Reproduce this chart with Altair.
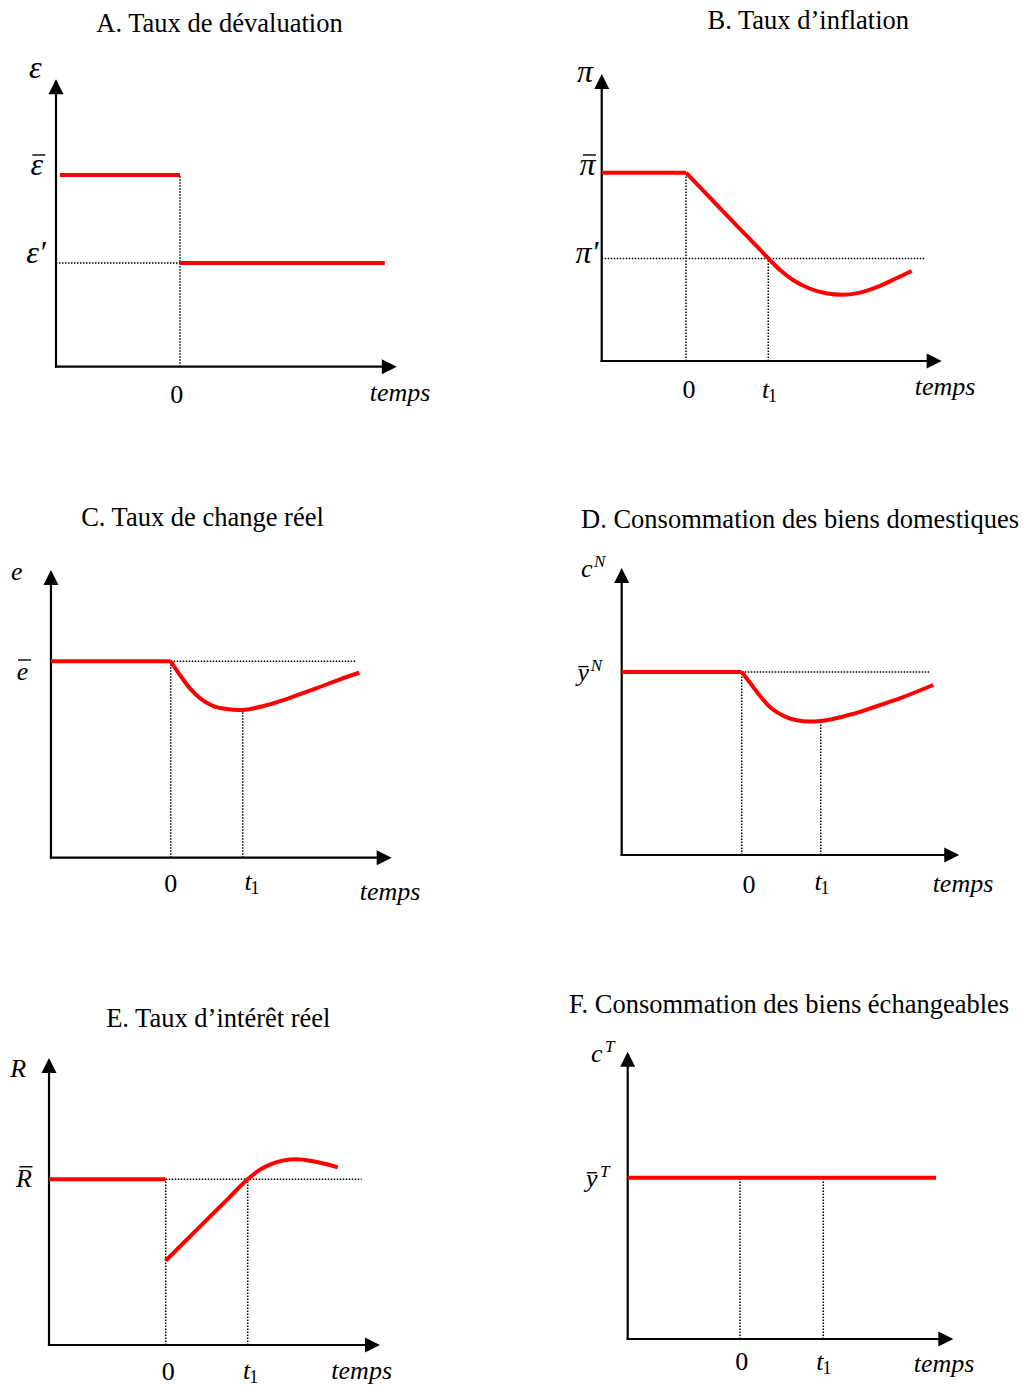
import altair as alt
import pandas as pd

SERIF = "Liberation Serif"
RED = "#ff0000"
INK = "black"

# Arrowheads as custom symbol paths (tip at the anchor point)
UP_ARROW = "M0,0L-1,2L1,2Z"
RIGHT_ARROW = "M0,0L-2,-1L-2,1Z"
ARROW_SIZE = 225          # 7.5 px per path unit -> 15 px long heads
ARROW_LEN = 14            # px of the shaft hidden under a head

# Time is measured so that the devaluation happens at 0 and t1 = 1;
# values are relative to the initial steady state (= 1), the time axis at 0.
# Label tuples: (text, t, v, kind, overline, superscript, subscript)

# ---------- A. Taux de dévaluation ----------
A_title = "A. Taux de dévaluation"
A_axes = (-1.55, 2.71, 1.50)          # y-axis position, end of time axis, top of y-axis
A_red_seg = [0, 0, 1, 1]
A_red_t = [-1.50, 0.0, 0.0, 2.56]
A_red_v = [1.0, 1.0, 0.541, 0.541]
A_dots = [(-1.55, 0.541, 0.0, 0.541), (0.0, 0.0, 0.0, 1.0)]
A_labels = [
    ("ε", -1.81, 1.506, "greek", False, "", ""),
    ("ε", -1.79, 1.0, "greek", True, "", ""),
    ("ε′", -1.80, 0.541, "greek", False, "", ""),
    ("0", -0.04, -0.189, "num", False, "", ""),
    ("temps", 2.75, -0.18, "word", False, "", ""),
]

# ---------- B. Taux d'inflation ----------
B_title = "B. Taux d’inflation"
B_axes = (-1.024, 3.107, 1.524)
B_red_seg = [0, 0] + [1] * 14
B_red_t = [-1.024, 0.0,
           0.0, 0.25, 0.5, 0.75, 1.0, 1.15, 1.3, 1.5, 1.7,
           1.9, 2.1, 2.35, 2.55, 2.742]
B_red_v = [1.0, 1.0,
           1.0, 0.886, 0.772, 0.659, 0.545, 0.48, 0.43, 0.385, 0.36,
           0.352, 0.362, 0.398, 0.438, 0.478]
B_dots = [(-1.024, 0.545, 2.904, 0.545), (0.0, 0.0, 0.0, 1.0), (1.0, 0.0, 1.0, 0.545)]
B_labels = [
    ("π", -1.227, 1.483, "greek", False, "", ""),
    ("π", -1.197, 0.988, "greek", True, "", ""),
    ("π′", -1.203, 0.520, "greek", False, "", ""),
    ("0", 0.036, -0.198, "num", False, "", ""),
    ("t", 0.967, -0.198, "math", False, "", "1"),
    ("temps", 3.147, -0.181, "word", False, "", ""),
]

# ---------- C. Taux de change réel ----------
C_title = "C. Taux de change réel"
C_axes = (-1.663, 3.069, 1.465)
C_red_seg = [0, 0] + [1] * 13
C_red_t = [-1.663, 0.0,
           0.0, 0.129, 0.268, 0.407, 0.592, 0.778, 0.95, 1.147, 1.376,
           1.703, 2.028, 2.351, 2.619]
C_red_v = [1.0, 1.0,
           1.0, 0.930, 0.862, 0.812, 0.772, 0.757, 0.752, 0.760, 0.781,
           0.820, 0.863, 0.908, 0.942]
C_dots = [(0.0, 1.0, 2.574, 1.0), (0.0, 0.0, 0.0, 1.0), (1.0, 0.0, 1.0, 0.753)]
C_labels = [
    ("e", -2.139, 1.414, "math", False, "", ""),
    ("e", -2.058, 0.905, "math", True, "", ""),
    ("0", 0.0, -0.173, "num", False, "", ""),
    ("t", 1.074, -0.164, "math", False, "", "1"),
    ("temps", 3.046, -0.215, "word", False, "", ""),
]

# ---------- D. Consommation des biens domestiques ----------
D_title = "D. Consommation des biens domestiques"
D_axes = (-1.519, 2.754, 1.568)
D_red_seg = [0, 0] + [1] * 13
D_red_t = [-1.519, 0.0,
           0.0, 0.127, 0.253, 0.380, 0.548, 0.70, 0.85, 1.0, 1.139,
           1.392, 1.687, 2.025, 2.425]
D_red_v = [1.0, 1.0,
           1.0, 0.929, 0.858, 0.800, 0.756, 0.736, 0.729, 0.732, 0.742,
           0.769, 0.810, 0.860, 0.929]
D_dots = [(0.0, 1.0, 2.392, 1.0), (0.0, 0.0, 0.0, 1.0), (1.0, 0.0, 1.0, 0.732)]
D_labels = [
    ("c", -1.962, 1.521, "math", False, "N", ""),
    ("y", -2.005, 0.953, "math", True, "N", ""),
    ("0", 0.092, -0.209, "num", False, "", ""),
    ("t", 0.966, -0.191, "math", False, "", "1"),
    ("temps", 2.801, -0.200, "word", False, "", ""),
]

# ---------- E. Taux d'intérêt réel ----------
E_title = "E. Taux d’intérêt réel"
E_axes = (-1.423, 2.613, 1.732)
E_red_seg = [0, 0] + [1] * 12
E_red_t = [-1.423, 0.0,
           0.0, 0.25, 0.5, 0.75, 1.0, 1.15, 1.3, 1.45, 1.6,
           1.78, 1.95, 2.098]
E_red_v = [1.0, 1.0,
           0.509, 0.632, 0.755, 0.877, 1.0, 1.058, 1.095, 1.115, 1.121,
           1.110, 1.092, 1.072]
E_dots = [(0.0, 1.0, 2.39, 1.0), (0.0, 0.0, 0.0, 1.0), (1.0, 0.0, 1.0, 1.0)]
E_labels = [
    ("R", -1.798, 1.619, "math", False, "", ""),
    ("R", -1.728, 0.955, "math", True, "", ""),
    ("0", 0.032, -0.211, "num", False, "", ""),
    ("t", 0.988, -0.205, "math", False, "", "1"),
    ("temps", 2.39, -0.207, "word", False, "", ""),
]

# ---------- F. Consommation des biens échangeables ----------
F_title = "F. Consommation des biens échangeables"
F_axes = (-1.348, 2.561, 1.781)
F_red_seg = [0, 0]
F_red_t = [-1.348, 2.353]
F_red_v = [1.0, 1.0]
F_dots = [(0.0, 0.0, 0.0, 1.0), (1.0, 0.0, 1.0, 1.0)]
F_labels = [
    ("c", -1.72, 1.719, "math", False, "T", ""),
    ("y", -1.78, 0.944, "math", True, "T", ""),
    ("0", 0.02, -0.192, "num", False, "", ""),
    ("t", 0.96, -0.192, "math", False, "", "1"),
    ("temps", 2.449, -0.203, "word", False, "", ""),
]

# Panel frames: origin (t=0, v=0) inside the cell in px, px per time unit,
# px per value unit, cell width and height; title anchor inside the cell.
FRAMES = {
    "A": ((180.0, 366.7, 80.0, 191.7, 512, 470), (219.5, 32.3)),
    "B": ((174.0, 361.0, 82.3, 188.3, 511, 470), (296.3, 29.3)),
    "C": ((170.7, 387.7, 72.0, 196.4, 512, 490), (202.5, 56.0)),
    "D": ((229.7, 385.0, 79.0, 183.0, 511, 490), (288.0, 58.3)),
    "E": ((165.7, 385.0, 82.0, 165.7, 512, 426), (218.3, 66.7)),
    "F": ((228.0, 379.0, 83.3, 161.3, 511, 426), (277.0, 52.7)),
}


def build_panel(key, title, axes, red_seg, red_t, red_v, dots, labels):
    (ox, oy, ppt, ppv, W, H), (tx, ty) = FRAMES[key]
    x_scale = alt.Scale(domain=[-ox / ppt, (W - ox) / ppt], nice=False, zero=False)
    y_scale = alt.Scale(domain=[-(H - oy) / ppv, oy / ppv], nice=False, zero=False)

    def X(f):
        return alt.X(f, type="quantitative", scale=x_scale, axis=None)

    def Y(f):
        return alt.Y(f, type="quantitative", scale=y_scale, axis=None)

    t0, t_end, v_top = axes

    # dotted guide lines
    dot_df = pd.DataFrame(dots, columns=["t", "v", "t2", "v2"])
    dotted = alt.Chart(dot_df).mark_rule(
        color=INK, strokeWidth=1.5, strokeDash=[1.5, 1.5]
    ).encode(x=X("t"), y=Y("v"), x2="t2", y2="v2")

    # axis shafts
    axis_df = pd.DataFrame({
        "t": [t0, t0], "v": [0.0, 0.0],
        "t2": [t0, t_end - ARROW_LEN / ppt],
        "v2": [v_top - ARROW_LEN / ppv, 0.0],
    })
    shafts = alt.Chart(axis_df).mark_rule(
        color=INK, strokeWidth=2.2, strokeCap="square"
    ).encode(x=X("t"), y=Y("v"), x2="t2", y2="v2")

    up_head = alt.Chart(pd.DataFrame({"t": [t0], "v": [v_top]})).mark_point(
        shape=UP_ARROW, size=ARROW_SIZE, filled=True, color=INK, opacity=1, strokeWidth=0
    ).encode(x=X("t"), y=Y("v"))
    right_head = alt.Chart(pd.DataFrame({"t": [t_end], "v": [0.0]})).mark_point(
        shape=RIGHT_ARROW, size=ARROW_SIZE, filled=True, color=INK, opacity=1, strokeWidth=0
    ).encode(x=X("t"), y=Y("v"))

    # the red time paths
    red_df = pd.DataFrame({"seg": red_seg, "t": red_t, "v": red_v,
                           "i": list(range(len(red_t)))})
    paths = alt.Chart(red_df).mark_line(
        color=RED, strokeWidth=4, interpolate="monotone", strokeCap="butt",
        strokeJoin="round"
    ).encode(x=X("t"), y=Y("v"), detail="seg:N", order="i:Q")

    lab_df = pd.DataFrame(labels, columns=["text", "t", "v", "kind", "bar", "sup", "sub"])
    base = alt.Chart(lab_df)
    greek_txt = base.transform_filter("datum.kind == 'greek'").mark_text(
        font=SERIF, fontSize=32, fontStyle="italic", align="center",
        baseline="alphabetic", color=INK
    ).encode(x=X("t"), y=Y("v"), text="text:N")
    italic_txt = base.transform_filter(
        "datum.kind == 'math' || datum.kind == 'word'"
    ).mark_text(
        font=SERIF, fontSize=26, fontStyle="italic", align="center",
        baseline="alphabetic", color=INK
    ).encode(x=X("t"), y=Y("v"), text="text:N")
    upright_txt = base.transform_filter("datum.kind == 'num'").mark_text(
        font=SERIF, fontSize=26, align="center", baseline="alphabetic", color=INK
    ).encode(x=X("t"), y=Y("v"), text="text:N")
    sup_txt = base.transform_filter("datum.sup != ''").mark_text(
        font=SERIF, fontSize=17, fontStyle="italic", align="center",
        baseline="alphabetic", color=INK, dx=13, dy=-10
    ).encode(x=X("t"), y=Y("v"), text="sup:N")
    sub_txt = base.transform_filter("datum.sub != ''").mark_text(
        font=SERIF, fontSize=18, align="center", baseline="alphabetic",
        color=INK, dx=7, dy=4
    ).encode(x=X("t"), y=Y("v"), text="sub:N")
    bars_hi = base.transform_filter("datum.bar && datum.text != 'y'").mark_point(
        shape="stroke", size=169, strokeWidth=1.4, color=INK, opacity=1,
        xOffset=2, yOffset=-20
    ).encode(x=X("t"), y=Y("v"))
    bars_lo = base.transform_filter("datum.bar && datum.text == 'y'").mark_point(
        shape="stroke", size=100, strokeWidth=1.4, color=INK, opacity=1,
        xOffset=0, yOffset=-14
    ).encode(x=X("t"), y=Y("v"))

    heading = alt.Chart(pd.DataFrame({"title": [title]})).mark_text(
        font=SERIF, fontSize=26.5, align="center", baseline="alphabetic", color=INK
    ).encode(x=alt.value(tx), y=alt.value(ty), text="title:N")

    return alt.layer(
        dotted, shafts, up_head, right_head, paths,
        greek_txt, italic_txt, upright_txt, sup_txt, sub_txt, bars_hi, bars_lo, heading
    ).properties(width=W, height=H)


pA = build_panel("A", A_title, A_axes, A_red_seg, A_red_t, A_red_v, A_dots, A_labels)
pB = build_panel("B", B_title, B_axes, B_red_seg, B_red_t, B_red_v, B_dots, B_labels)
pC = build_panel("C", C_title, C_axes, C_red_seg, C_red_t, C_red_v, C_dots, C_labels)
pD = build_panel("D", D_title, D_axes, D_red_seg, D_red_t, D_red_v, D_dots, D_labels)
pE = build_panel("E", E_title, E_axes, E_red_seg, E_red_t, E_red_v, E_dots, E_labels)
pF = build_panel("F", F_title, F_axes, F_red_seg, F_red_t, F_red_v, F_dots, F_labels)

# 3 x 2 grid; each cell laid out by its own width/height
chart = alt.concat(
    pA, pB, pC, pD, pE, pF,
    columns=2, spacing=0, bounds="flush", align="each",
).properties(padding=0, background="white").configure_view(stroke=None)

chart.save("out.html", embed_options={"renderer": "svg", "actions": False})
